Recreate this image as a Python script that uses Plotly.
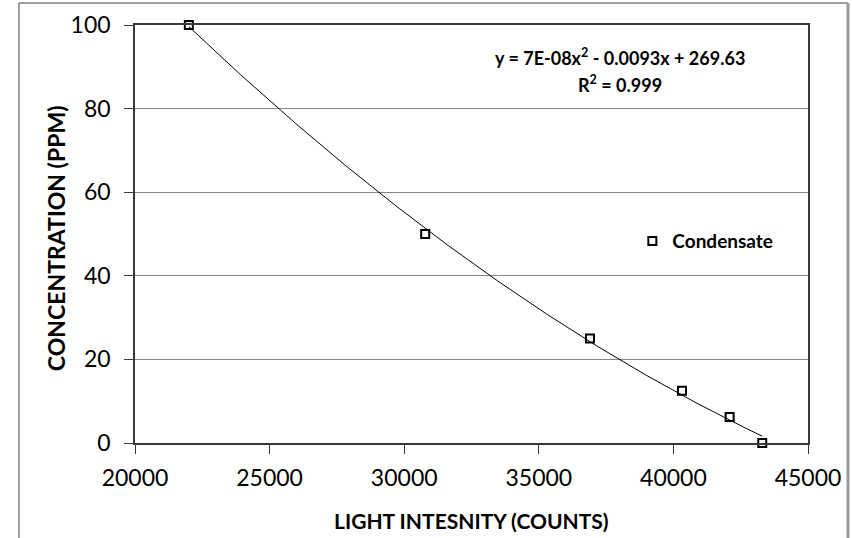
import numpy as np
import plotly.graph_objects as go

# Data
light_counts = [22000, 30780, 36900, 40320, 42090, 43300]
concentration_ppm = [100, 50, 25, 12.5, 6.25, 0]
series_name = "Condensate"
x_ticks = [20000, 25000, 30000, 35000, 40000, 45000]
y_ticks = [0, 20, 40, 60, 80, 100]
x_title = "LIGHT INTESNITY (COUNTS)"
y_title = "CONCENTRATION (PPM)"
equation_text = "y = 7E-08x<sup>2</sup> - 0.0093x + 269.63"
r2_text = "R<sup>2</sup> = 0.999"

# Polynomial trendline (order 2) fitted to the data, spanning the data range
coef = np.polyfit(light_counts, concentration_ppm, 2)
xt = np.linspace(min(light_counts), max(light_counts), 200)
yt = np.polyval(coef, xt)

FONT = "Lato"
DARK = "#3a3a3a"

fig = go.Figure()
fig.add_trace(go.Scatter(
    x=xt, y=yt, mode="lines", showlegend=False,
    line=dict(color="black", width=1), hoverinfo="skip", cliponaxis=False))
fig.add_trace(go.Scatter(
    x=light_counts, y=concentration_ppm, mode="markers", name=series_name,
    marker=dict(symbol="square-open", size=8, color="black",
                line=dict(color="black", width=2)),
    cliponaxis=False))

fig.update_layout(
    width=852, height=538,
    margin=dict(l=135, r=44, t=25, b=95),
    paper_bgcolor="white", plot_bgcolor="white",
    font=dict(family=FONT, color="black"),
    showlegend=True,
    legend=dict(x=0.739, y=0.483, xanchor="left", yanchor="middle",
                bgcolor="rgba(0,0,0,0)", font=dict(size=19, family=FONT, weight="bold"),
                itemwidth=30, tracegroupgap=0),
    xaxis=dict(range=[20000, 45000], tickvals=x_ticks,
               ticktext=[str(v) for v in x_ticks],
               automargin=False,
               showgrid=False, zeroline=False,
               showline=True, linecolor=DARK, linewidth=1.5, mirror=True,
               ticks="outside", ticklen=9, tickcolor=DARK, tickwidth=1,
               ticklabelstandoff=5,
               tickfont=dict(size=23, family=FONT)),
    yaxis=dict(range=[0, 100], tickvals=y_ticks,
               automargin=False,
               showgrid=True, gridcolor="#868686", gridwidth=1,
               zeroline=False,
               showline=True, linecolor=DARK, linewidth=1.5, mirror=True,
               ticks="outside", ticklen=9, tickcolor=DARK, tickwidth=1,
               ticklabelstandoff=9,
               tickfont=dict(size=23, family=FONT)),
)

# axis titles
fig.add_annotation(xref="paper", yref="paper", x=0.5, y=-0.1866,
                   xanchor="center", yanchor="middle", showarrow=False,
                   text="<b>" + x_title + "</b>", font=dict(size=21, family=FONT, color="black"))
fig.add_annotation(xref="paper", yref="paper", x=-0.1174, y=0.49,
                   xanchor="center", yanchor="middle", showarrow=False, textangle=-90,
                   text="<b>" + y_title + "</b>", font=dict(size=23, family=FONT, color="black"))

# trendline equation
fig.add_annotation(
    xref="paper", yref="paper", x=0.7207, y=0.9234, xanchor="center", yanchor="middle",
    text="<b>" + equation_text + "</b>",
    showarrow=False, font=dict(size=18, family=FONT, color="black"))
fig.add_annotation(
    xref="paper", yref="paper", x=0.7207, y=0.8589, xanchor="center", yanchor="middle",
    text="<b>" + r2_text + "</b>",
    showarrow=False, font=dict(size=18, family=FONT, color="black"))

# outer chart border
fig.add_shape(type="line", xref="paper", yref="paper", x0=-0.1724, x1=-0.1724, y0=-0.3, y1=1.0526,
              line=dict(color="#404040", width=1))
fig.add_shape(type="line", xref="paper", yref="paper", x0=-0.1724, x1=1.0594, y0=1.0526, y1=1.0526,
              line=dict(color="#404040", width=1))
fig.add_shape(type="line", xref="paper", yref="paper", x0=1.0594, x1=1.0594, y0=-0.3, y1=1.0526,
              line=dict(color="#9a9a9a", width=3))

fig.write_html("out.html")
